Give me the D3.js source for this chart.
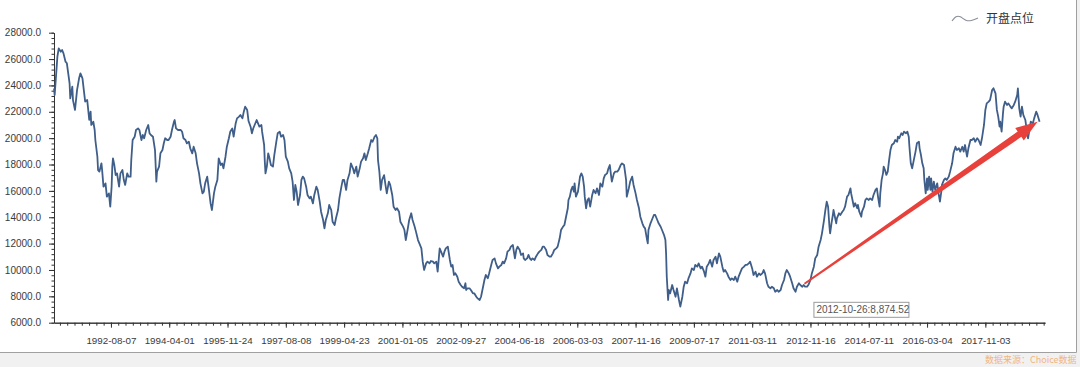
<!DOCTYPE html>
<html>
<head>
<meta charset="utf-8">
<script src="https://cdnjs.cloudflare.com/ajax/libs/d3/7.8.5/d3.min.js"></script>
<style>
  body { margin: 0; background: #fff; }
  svg { display: block; font-family: "Liberation Sans", Arial, sans-serif; }
</style>
</head>
<body>
<svg id="chart" width="1080" height="367"></svg>
<script>
// legend / source text
const seriesName = '开盘点位';
const sourceText = '数据来源：Choice数据';

// x axis labels (one every 86 weekly categories)
const tickLabels = ['1992-08-07', '1994-04-01', '1995-11-24', '1997-08-08', '1999-04-23',
  '2001-01-05', '2002-09-27', '2004-06-18', '2006-03-03', '2007-11-16', '2009-07-17',
  '2011-03-11', '2012-11-16', '2014-07-11', '2016-03-04', '2017-11-03'];
const firstLabelWeek = 84;
const labelStep = 86;
const weekCount = 1462;

const yTicks = [6000, 8000, 10000, 12000, 14000, 16000, 18000, 20000, 22000, 24000, 26000, 28000];

// highlighted point shown in the tooltip box
const tipPoint = { week: 1113, date: '2012-10-26', value: 8874.52 };

// [week index, opening level]
const openSeries = [
  [0,23780],[1,23270],[5,26180],[7,26810],[10,26560],[12,26690],[14,26430],[17,25800],[19,25680],[21,24920],
  [23,24160],[24,23020],[27,23910],[28,22890],[31,22140],[34,23650],[37,24540],[39,24920],[42,24540],[44,23650],
  [46,22770],[49,22890],[50,22390],[52,21380],[54,22010],[55,21000],[58,21250],[60,20620],[61,19860],[64,18590],
  [65,17580],[67,17460],[70,18090],[71,17580],[73,16320],[76,16570],[78,15560],[81,15810],[83,14800],[85,16320],
  [86,17840],[87,18470],[89,17960],[91,17200],[93,17330],[96,16320],[98,17330],[101,17580],[103,16820],[105,16450],
  [108,17330],[110,17080],[113,17080],[114,18340],[116,19860],[119,20110],[121,20620],[124,20740],[126,20620],[129,19860],
  [131,20240],[133,19990],[136,20620],[139,21000],[141,20360],[143,20240],[146,20110],[149,19100],[151,16700],[152,17460],
  [155,17840],[157,18850],[160,19100],[162,19610],[164,19990],[167,19860],[169,19860],[172,20110],[174,20620],[177,21250],
  [178,21380],[180,20740],[183,20620],[187,20620],[189,20490],[191,19990],[194,19860],[196,19610],[199,19730],[201,19230],
  [204,18850],[206,19350],[209,18850],[211,18090],[214,17330],[216,16570],[219,15810],[221,15940],[223,16570],[226,17080],
  [228,16320],[231,15050],[233,14550],[236,15810],[238,16320],[241,16820],[243,18470],[246,17960],[248,18090],[250,17710],
  [253,18590],[255,19350],[258,19990],[260,20490],[263,20740],[265,20110],[268,21120],[270,21500],[273,21630],[275,21760],
  [278,21500],[280,22010],[282,22390],[285,22140],[287,21300],[290,20870],[292,20370],[294,20750],[296,21000],[299,21380],
  [301,21120],[303,20870],[306,21000],[307,20490],[310,19480],[311,18220],[312,17330],[314,17840],[316,18850],[318,18470],
  [320,17960],[323,17840],[325,18720],[328,19730],[330,20370],[333,20490],[335,20110],[338,20240],[340,19860],[342,18600],
  [345,18220],[347,17710],[350,17330],[352,16700],[354,15310],[356,16450],[358,15940],[360,14930],[363,15690],[365,16830],
  [367,17080],[369,16950],[372,16320],[374,15690],[377,15430],[379,15560],[382,15050],[384,15690],[387,16320],[389,16070],
  [392,15180],[394,14420],[397,13790],[399,13160],[401,13790],[404,14300],[406,14930],[409,14550],[411,13660],[414,13410],
  [416,13920],[419,14550],[421,15430],[424,16320],[426,16830],[428,16830],[431,16070],[433,16830],[436,17330],[438,18090],
  [441,17710],[443,17330],[446,17840],[448,17080],[451,17710],[453,18220],[456,18470],[458,18850],[460,18340],[463,18850],
  [465,19230],[468,19860],[470,19730],[473,20110],[475,20240],[477,19990],[478,18340],[480,17460],[482,16070],[484,16830],
  [487,17200],[489,16450],[491,15810],[494,16700],[496,16450],[499,15690],[501,14800],[504,14550],[506,14680],[509,14420],
  [511,13660],[515,13290],[517,13030],[519,12270],[522,13160],[524,13790],[527,14300],[529,13790],[532,13290],[534,12910],
  [537,12270],[539,12020],[542,11640],[544,10630],[546,10000],[549,10500],[551,10630],[554,10500],[556,10680],[559,10630],
  [561,10500],[564,10630],[566,9870],[569,11640],[571,11390],[574,11010],[576,11390],[578,11640],[581,11770],[584,10760],
  [586,10250],[588,10380],[590,9620],[592,9750],[595,9490],[597,9110],[600,8860],[602,8730],[605,8610],[607,8990],
  [608,8480],[610,8610],[613,8610],[615,8480],[618,8230],[620,8230],[623,7970],[625,7850],[628,7720],[630,7970],
  [633,8730],[635,9240],[637,9620],[640,9370],[642,9750],[645,10380],[647,10760],[650,10880],[652,10500],[655,10120],
  [657,10250],[660,10380],[662,10630],[664,10500],[667,10880],[669,11390],[672,11520],[674,11770],[677,11890],[678,11520],
  [680,10880],[682,11520],[684,11770],[687,11520],[689,11140],[692,11260],[693,10880],[695,10760],[698,10880],[700,11140],
  [702,10880],[704,10760],[706,10880],[709,10760],[711,11010],[714,11260],[716,11390],[719,11520],[721,11770],[723,11770],
  [726,11520],[728,11140],[731,11010],[733,11010],[736,11260],[738,11520],[741,11640],[743,11770],[746,12400],[748,13030],
  [751,13290],[753,13410],[755,13920],[758,14680],[759,15310],[761,15560],[763,16070],[765,16320],[767,15940],[768,16570],
  [770,15560],[773,15940],[774,16320],[776,17080],[778,17330],[780,17080],[782,16320],[783,15560],[785,14680],[787,15310],
  [789,15440],[791,14800],[794,15690],[796,16070],[799,15810],[801,16190],[804,15690],[806,16570],[809,16320],[811,16950],
  [813,17210],[816,17330],[818,17710],[820,17960],[822,17080],[823,16700],[826,17330],[828,17460],[831,17460],[833,17590],
  [836,17960],[838,18090],[841,17960],[842,17590],[844,16830],[845,15560],[848,16190],[850,16700],[853,17080],[855,16450],
  [858,15810],[860,15310],[863,14680],[865,14040],[868,13540],[870,13290],[872,13160],[875,12270],[876,12020],[877,13030],
  [880,13540],[882,13790],[885,14170],[887,14170],[890,13790],[892,13540],[895,13280],[897,13030],[900,12650],[902,12270],
  [903,11260],[904,9490],[906,7720],[907,8480],[909,8230],[912,8860],[914,8480],[917,7970],[919,8610],[922,7720],
  [924,7220],[927,7970],[929,8730],[931,9110],[934,8990],[936,9360],[939,9740],[941,10120],[944,10000],[946,10380],
  [949,10250],[951,10500],[954,10120],[956,10250],[959,9870],[961,9490],[963,10250],[966,10500],[968,10760],[971,10250],
  [973,10760],[976,11010],[978,10500],[981,11260],[983,11010],[986,10250],[988,9870],[990,10000],[993,9740],[995,9490],
  [998,9240],[1000,9360],[1003,9240],[1005,9490],[1008,9110],[1010,9490],[1013,9870],[1015,10120],[1018,10250],[1020,10380],
  [1022,10380],[1025,10500],[1027,10630],[1030,10120],[1032,9620],[1035,9870],[1037,9490],[1040,9740],[1042,9620],[1045,9740],
  [1047,10000],[1049,9740],[1052,8990],[1054,8730],[1057,8610],[1059,8730],[1062,8610],[1064,8350],[1067,8480],[1069,8350],
  [1072,8480],[1074,8860],[1077,9240],[1079,9740],[1081,10000],[1084,9740],[1086,9490],[1089,8990],[1091,8610],[1094,8350],
  [1096,8730],[1099,8990],[1101,8860],[1104,8730],[1106,8860],[1108,8730],[1111,8730],[1113,8874.52],[1116,9240],[1118,9740],
  [1121,10250],[1123,10880],[1126,11140],[1128,11770],[1131,12270],[1133,12780],[1136,13790],[1138,14550],[1140,15180],[1142,14800],
  [1144,13280],[1145,12780],[1147,13540],[1149,14170],[1150,14550],[1152,14040],[1154,13540],[1155,13920],[1158,14300],[1160,14170],
  [1163,14420],[1165,14550],[1167,14800],[1170,15560],[1172,15690],[1175,16190],[1176,15810],[1178,15310],[1180,14800],[1182,15060],
  [1185,14680],[1186,14930],[1188,14420],[1191,14040],[1192,14420],[1195,14800],[1197,15310],[1199,15430],[1202,15310],[1204,15430],
  [1207,15310],[1209,15690],[1212,16070],[1214,16190],[1216,15430],[1218,14800],[1219,15810],[1221,16830],[1223,17330],[1224,17840],
  [1226,17580],[1228,17210],[1230,17460],[1232,18340],[1234,19100],[1236,19480],[1239,19610],[1241,19860],[1244,19730],[1245,20110],
  [1247,19990],[1250,20370],[1252,20240],[1254,20490],[1257,20370],[1259,20490],[1261,20110],[1262,19350],[1264,18090],[1266,17710],
  [1268,18220],[1271,18980],[1273,19610],[1276,19730],[1277,19230],[1279,18720],[1281,18090],[1283,17710],[1284,16830],[1286,15810],
  [1288,16950],[1289,16070],[1291,17080],[1293,16070],[1294,16950],[1296,15940],[1298,16700],[1300,16070],[1303,16570],[1305,15810],
  [1307,15180],[1309,15940],[1310,16450],[1313,16830],[1315,16950],[1317,16830],[1320,17080],[1322,17460],[1325,18090],[1327,18850],
  [1330,19350],[1332,19100],[1335,19230],[1337,18980],[1340,19350],[1342,18980],[1344,19480],[1347,18600],[1349,19230],[1352,19860],
  [1354,19860],[1357,19990],[1359,19730],[1362,19990],[1364,19860],[1367,19480],[1369,19990],[1372,21000],[1374,22140],[1376,22640],
  [1379,22770],[1381,22900],[1384,23650],[1386,23780],[1389,23400],[1391,22140],[1393,21630],[1395,20870],[1396,21250],[1398,20490],
  [1400,21880],[1401,22390],[1403,22770],[1406,22520],[1408,22640],[1411,22390],[1413,22260],[1416,22520],[1418,22770],[1421,23270],
  [1422,23780],[1424,22260],[1426,21630],[1428,22390],[1430,21760],[1433,21380],[1435,20620],[1437,19990],[1439,20620],[1441,21250],
  [1444,21120],[1446,21500],[1449,22010],[1451,21760],[1454,21250]
];

const W = 1080, H = 367;
const svg = d3.select('#chart');

// grey page strip + frame lines
svg.append('rect').attr('width', W).attr('height', H).attr('fill', '#f1f1f1');
svg.append('rect').attr('width', 1076).attr('height', 352).attr('fill', '#fff');
svg.append('line').attr('x1', 1076.5).attr('x2', 1076.5).attr('y1', 0).attr('y2', 352.5)
  .attr('stroke', '#a0a0a0');
svg.append('line').attr('x1', 0).attr('x2', 1076.5).attr('y1', 352.5).attr('y2', 352.5)
  .attr('stroke', '#a0a0a0');

const x = d3.scaleLinear().domain([0, weekCount]).range([54, 1045]);
const y = d3.scaleLinear().domain([6000, 28000]).range([322.7, 32.7]);

const labelWeeks = tickLabels.map((d, i) => firstLabelWeek + labelStep * i);

// x axis: minor ticks, then labelled ticks
svg.append('g').attr('transform', 'translate(0,322.7)')
  .call(d3.axisBottom(x)
    .tickValues(d3.range(firstLabelWeek % (labelStep / 8), weekCount, labelStep / 8))
    .tickSize(3).tickSizeOuter(0).tickFormat(''));
const gx = svg.append('g').attr('transform', 'translate(0,322.7)')
  .call(d3.axisBottom(x).tickValues(labelWeeks).tickSize(5).tickSizeOuter(0)
    .tickFormat((d, i) => tickLabels[i]));
gx.selectAll('text').attr('dy', '1.35em').style('font-size', '9.8px').attr('fill', '#3a3a3a');

// y axis
svg.append('g').attr('transform', 'translate(54,0)')
  .call(d3.axisLeft(y).tickValues(d3.range(6000, 28001, 400)).tickSize(2.5)
    .tickSizeOuter(0).tickFormat(''));
const gy = svg.append('g').attr('transform', 'translate(54,0)')
  .call(d3.axisLeft(y).tickValues(yTicks).tickSize(5).tickSizeOuter(0)
    .tickFormat(d3.format('.1f')));
gy.selectAll('text').attr('dx', '-0.5em').style('font-size', '10px').attr('fill', '#3a3a3a');

svg.selectAll('.domain, .tick line').attr('stroke', '#333');

// the series line
const line = d3.line().x(d => x(d[0])).y(d => y(d[1]));
svg.append('path').datum(openSeries)
  .attr('d', line)
  .attr('fill', 'none')
  .attr('stroke', '#3f5e89')
  .attr('stroke-width', 1.8)
  .attr('stroke-linejoin', 'round');

// legend with wavy icon
const legend = svg.append('g').attr('transform', 'translate(952,18)');
legend.append('path')
  .attr('d', d3.line().curve(d3.curveBasis)([[0, 3], [4, -2], [8, -2], [14, 3], [19, 3], [26, 0]]))
  .attr('fill', 'none').attr('stroke', '#8a8f99').attr('stroke-width', 1.1);
legend.append('text').attr('x', 34).attr('y', 4.5)
  .style('font-family', '"Noto Sans CJK SC", sans-serif').style('font-size', '12px')
  .attr('fill', '#333').text(seriesName);

// red arrow from the tooltip point up to the latest value
const last = openSeries[openSeries.length - 1];
const sx = x(tipPoint.week) - 4, sy = y(tipPoint.value) - 1;
const ex = x(last[0]) - 2, ey = y(last[1]);
const len = Math.hypot(ex - sx, ey - sy);
const ux = (ex - sx) / len, uy = (ey - sy) / len;
const px = -uy, py = ux;
const headLen = 22, headW = 7.5, shaftStart = 0.9, shaftEnd = 3.2;
const bx = ex - ux * headLen, by = ey - uy * headLen;
const arrowPts = [
  [sx + px * shaftStart, sy + py * shaftStart],
  [bx + px * shaftEnd, by + py * shaftEnd],
  [bx + px * headW, by + py * headW],
  [ex, ey],
  [bx - px * headW, by - py * headW],
  [bx - px * shaftEnd, by - py * shaftEnd],
  [sx - px * shaftStart, sy - py * shaftStart]
];
svg.append('path')
  .attr('d', d3.line()(arrowPts) + 'Z')
  .attr('fill', '#e8403b');

// tooltip box
const tx = x(tipPoint.week) + 5, ty = y(tipPoint.value) + 17;
svg.append('rect').attr('x', tx + 0.5).attr('y', ty + 0.5).attr('width', 95).attr('height', 15)
  .attr('fill', '#fff').attr('stroke', '#9a9a9a');
svg.append('text').attr('x', tx + 3).attr('y', ty + 11.5)
  .style('font-size', '10px').attr('fill', '#555')
  .text(tipPoint.date + ':' + d3.format(',.2f')(tipPoint.value));

// source watermark
svg.append('text').attr('x', 985).attr('y', 363)
  .style('font-family', '"Noto Sans CJK SC", sans-serif').style('font-size', '9px')
  .attr('fill', '#f2a15a').attr('opacity', 0.75).text(sourceText);
</script>
</body>
</html>
